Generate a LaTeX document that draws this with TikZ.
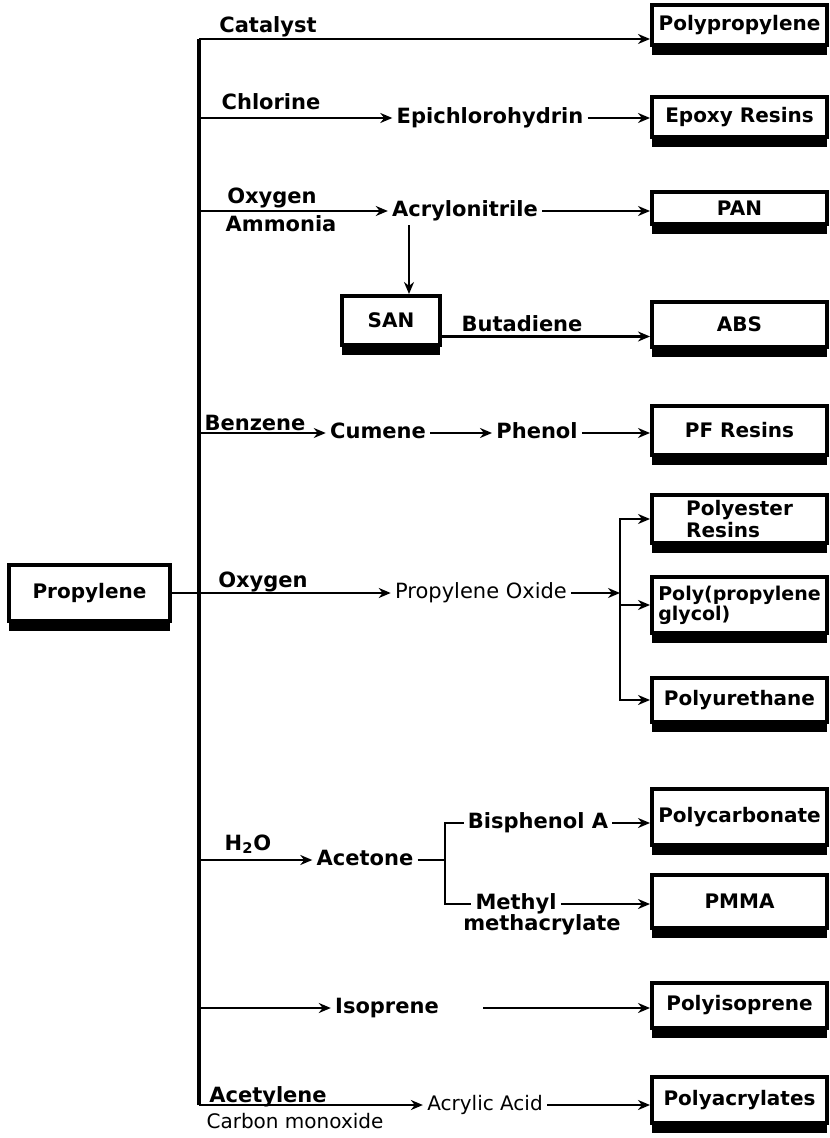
\documentclass[tikz,border=0pt]{standalone}
\usepackage{fontspec}
\setmainfont{DejaVu Sans}
\usepackage{tikz}
\usetikzlibrary{arrows.meta, shadows}
\newcommand{\boxfont}{\bfseries\fontsize{10}{11}\selectfont}
\newcommand{\lblfont}{\bfseries\fontsize{10.5}{12}\selectfont}
\newcommand{\lightfont}{\fontsize{10}{12}\selectfont}
\tikzset{
  prodbox/.style={draw, line width=2pt, fill=white, minimum width=87.5pt,
    inner sep=2pt, font=\boxfont,
    drop shadow={shadow xshift=0pt, shadow yshift=-5pt, fill=black, opacity=1}},
  chem/.style={inner sep=2pt, font=\lblfont, text height=7.5pt, text depth=2.2pt},
  chemlight/.style={chem, font=\lightfont},
  flow/.style={line width=1.3pt},
  trunk/.style={line width=1.7pt},
}

\begin{document}
\begin{tikzpicture}[x=0.5pt, y=-0.5pt, >={Stealth[length=6pt, width=5pt]}]
  \useasboundingbox (0,0) rectangle (829,1138);
  % feedstock
  \node[prodbox, minimum width=80.5pt, minimum height=28pt] (prop) at (89.5,593) {Propylene};
  % products on the right
  \node[prodbox, minimum height=20pt] (pp) at (739.5,25) {Polypropylene};
  \node[prodbox, minimum height=20pt] (epoxy) at (739.5,117) {Epoxy Resins};
  \node[prodbox, minimum height=16pt] (pan) at (739.5,208) {PAN};
  \node[prodbox, minimum height=22.5pt] (abs) at (739.5,324.5) {ABS};
  \node[prodbox, minimum width=49pt, minimum height=24.5pt] (san) at (391,320.5) {SAN};
  \node[prodbox, minimum height=24.5pt] (pf) at (739.5,430.5) {PF Resins};
  \node[prodbox, minimum height=24pt, align=left] (pes) at (739.5,519) {Polyester\\Resins};
  \node[prodbox, minimum height=28pt, align=left, font=\bfseries\fontsize{9.5}{10}\selectfont] (ppg) at (739.5,605) {Poly(propylene\\glycol)};
  \node[prodbox, minimum height=22pt] (pu) at (739.5,700) {Polyurethane};
  \node[prodbox, minimum height=28pt] (pc) at (739.5,817) {Polycarbonate};
  \node[prodbox, minimum height=26.5pt] (pmma) at (739.5,901.5) {PMMA};
  \node[prodbox, minimum height=22.5pt] (pi) at (739.5,1005.5) {Polyisoprene};
  \node[prodbox, minimum height=23pt] (pa) at (739.5,1100) {Polyacrylates};
  % intermediates
  \node[chem] (epi) at (490,118) {Epichlorohydrin};
  \node[chem] (acn) at (465,211) {Acrylonitrile};
  \node[chem] (cum) at (378,433) {Cumene};
  \node[chem] (phe) at (537,433) {Phenol};
  \node[chemlight, font=\fontsize{10.5}{12}\selectfont] (po) at (481,593) {Propylene Oxide};
  \node[chem] (ace) at (365,860) {Acetone};
  \node[chem] (bpa) at (538,823) {Bisphenol A};
  \node[chem] (mma) at (516,904) {Methyl};
  \node[chem] (mma2) at (542,925) {methacrylate};
  \node[chem] (iso) at (387,1008) {Isoprene};
  \node[chemlight] (aa) at (485,1105) {Acrylic Acid};
  % reagents over the lines
  \node[chem] (cat) at (268,27.7) {Catalyst};
  \node[chem] (chl) at (271,104.7) {Chlorine};
  \node[chem] (oxa) at (272,198.7) {Oxygen};
  \node[chem] (amm) at (281,226.7) {Ammonia};
  \node[chem] (but) at (522,326.7) {Butadiene};
  \node[chem] (ben) at (255,424.7) {Benzene};
  \node[chem] (oxb) at (263,581.7) {Oxygen};
  \node[chem] (wat) at (248,844.7) {H\textsubscript{2}O};
  \node[chem] (acy) at (268,1096.7) {Acetylene};
  \node[chemlight] (co) at (295,1122.7) {Carbon monoxide};
  % the trunk
  \coordinate (tcat) at (199,39);
  \coordinate (tchl) at (199,118);
  \coordinate (toxa) at (199,211);
  \coordinate (tben) at (199,433);
  \coordinate (th2o) at (199,860);
  \coordinate (tiso) at (199,1008);
  \coordinate (tacy) at (199,1105);
  \draw[trunk] (tacy) -- (tcat);
  \draw[flow,->] (tcat) -- (tcat -| pp.west);
  \draw[flow,->] (tchl) -- (epi);
  \draw[flow,->] (epi) -- (epi -| epoxy.west);
  \draw[flow,->] (toxa) -- (acn);
  \draw[flow,->] (acn) -- (acn -| pan.west);
  \draw[flow,->] ([xshift=9pt]san.north |- acn.south) -- ([xshift=9pt]san.north);
  \draw[flow,->] ([yshift=-8pt]san.east) -- ([yshift=-8pt]san.east -| abs.west);
  \draw[flow,->] (tben) -- (cum);
  \draw[flow,->] (cum) -- (phe);
  \draw[flow,->] (phe) -- (phe -| pf.west);
  % propylene oxide branch
  \coordinate (pob) at (620,593);
  \draw[flow,->] (prop) -- (po);
  \draw[flow,->] (po) -- (pob);
  \draw[flow,<->] (pes.west) -| (pob) |- (pu.west);
  \draw[flow,->] (pob |- ppg.west) -- (ppg.west);
  % acetone branch
  \coordinate (acb) at (445,860);
  \draw[flow,->] (th2o) -- (ace);
  \draw[flow] (ace) -- (acb);
  \draw[flow] (bpa.west) -| (acb) |- (mma.west);
  \draw[flow,->] (bpa) -- (bpa -| pc.west);
  \draw[flow,->] (mma) -- (mma -| pmma.west);
  \draw[flow,->] (tiso) -- (iso);
  \draw[flow,->] ([xshift=20pt]iso.east) -- (iso -| pi.west);
  \draw[flow,->] (tacy) -- (aa);
  \draw[flow,->] (aa) -- (aa -| pa.west);
\end{tikzpicture}
\end{document}
